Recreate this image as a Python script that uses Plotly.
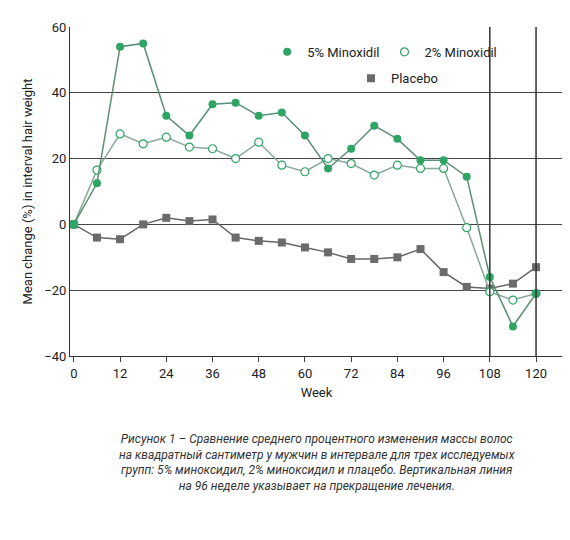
import plotly.graph_objects as go

weeks = [0,6,12,18,24,30,36,42,48,54,60,66,72,78,84,90,96,102,108,114,120]
min5 = [0,12.5,54,55,33,27,36.5,37,33,34,27,17,23,30,26,19.5,19.5,14.5,-16,-31,-21]
min2 = [0,16.5,27.5,24.5,26.5,23.5,23,20,25,18,16,20,18.5,15,18,17,17,-1,-20.5,-23,-21]
placebo = [0,-4,-4.5,0,2,1,1.5,-4,-5,-5.5,-7,-8.5,-10.5,-10.5,-10,-7.5,-14.5,-19,-19.5,-18,-13]
yticks = [-40,-20,0,20,40,60]
xticks = list(range(0,121,12))

green = "#2fa565"
m_pl = dict(symbol="square", size=8, color="#6b6b6b")
m_2 = dict(symbol="circle", size=8, color="white", line=dict(color=green, width=1.2))
m_5 = dict(symbol="circle", size=8, color=green)

fig = go.Figure()
fig.add_trace(go.Scatter(x=weeks, y=placebo, mode="lines+markers", showlegend=False,
    line=dict(color="#666", width=1.5), marker=m_pl))
fig.add_trace(go.Scatter(x=weeks, y=min2, mode="lines+markers", showlegend=False,
    line=dict(color="#8aa89a", width=1.5), marker=m_2))
fig.add_trace(go.Scatter(x=weeks, y=min5, mode="lines+markers", showlegend=False,
    line=dict(color="#5a8f75", width=1.5), marker=m_5))
# legend-only entries (markers only)
fig.add_trace(go.Scatter(x=[None], y=[None], mode="markers", name="5% Minoxidil", marker=m_5, legend="legend"))
fig.add_trace(go.Scatter(x=[None], y=[None], mode="markers", name="2% Minoxidil", marker=m_2, legend="legend"))
fig.add_trace(go.Scatter(x=[None], y=[None], mode="markers", name="Placebo", marker=m_pl, legend="legend2"))

for xv in [108, 120]:
    fig.add_shape(type="line", x0=xv, x1=xv, y0=-40, y1=60, xref="x", yref="y", line=dict(color="#333", width=1.5))

fig.add_annotation(x=0.5, y=-0.225, xref="paper", yref="paper", yanchor="top", showarrow=False, align="center",
    text="<i>Рисунок 1 – Сравнение среднего процентного изменения массы волос<br>на квадратный сантиметр у мужчин в интервале для трех исследуемых<br>групп: 5% миноксидил, 2% миноксидил и плацебо. Вертикальная линия<br>на 96 неделе указывает на прекращение лечения.</i>",
    font=dict(size=12, color="#333", family="Roboto"))

fig.update_layout(width=570, height=540, plot_bgcolor="white", paper_bgcolor="white",
    margin=dict(l=62, r=15, t=17, b=192), font=dict(family="Roboto", color="#222", size=13),
    legend=dict(x=0.4, y=0.97, orientation="h", bgcolor="rgba(0,0,0,0)", font=dict(size=13), itemwidth=30),
    legend2=dict(x=0.57, y=0.89, orientation="h", bgcolor="rgba(0,0,0,0)", font=dict(size=13), itemwidth=30),
    showlegend=True)
fig.update_xaxes(range=[-1, 127], tickvals=xticks, showgrid=False, showline=True, linecolor="#333",
    ticks="outside", ticklen=5, title=dict(text="Week", font=dict(size=13), standoff=8), zeroline=False)
fig.update_yaxes(range=[-40, 60], tickvals=yticks, showgrid=True, gridcolor="#444", gridwidth=1,
    showline=True, linecolor="#333", zeroline=False,
    title=dict(text="Mean change (%) in interval hair weight", font=dict(size=13), standoff=8))
fig.write_html("out.html")
